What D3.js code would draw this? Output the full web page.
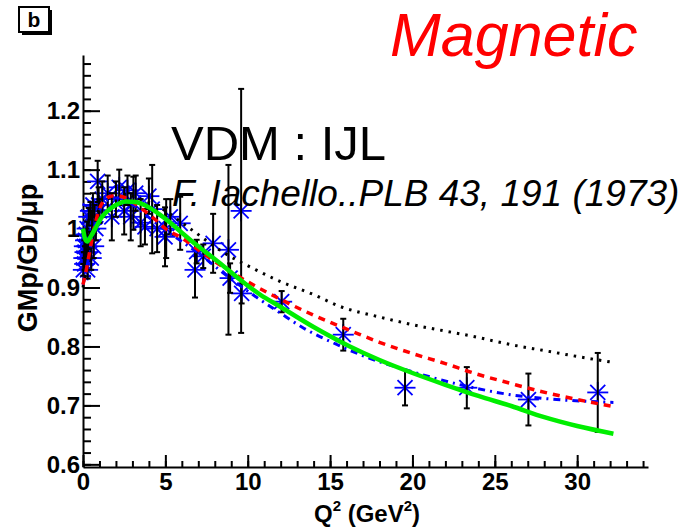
<!DOCTYPE html>
<html>
<head>
<meta charset="utf-8">
<script src="https://cdn.jsdelivr.net/npm/d3@7"></script>
<style>
  html, body { margin: 0; padding: 0; background: #fff; }
  svg { display: block; }
  text { font-family: "Liberation Sans", Arial, Helvetica, sans-serif; }
</style>
</head>
<body>
<svg id="chart" width="697" height="529"></svg>
<script>
// ---------- data ----------
const dataQ2  = [0.02,0.05,0.08,0.10,0.12,0.15,0.18,0.20,0.22,0.25,0.28,0.30,0.35,0.39,0.45,0.50,0.55,0.60,0.65,0.70,0.78,0.89,0.95,1.00,1.17,1.50,1.75,2.00,2.20,2.50,2.70,2.90,3.06,3.20,3.50,3.76,4.00,4.20,4.50,4.98,5.05,5.30,5.90,6.80,6.90,7.30,7.90,8.83,8.93,9.60,9.63,12.06,15.80,19.55,23.30,27.04,31.25];
const dataGM  = [0.930,0.950,0.970,0.940,0.960,0.980,0.950,0.990,0.970,1.000,0.930,0.960,1.020,0.980,1.030,0.950,1.010,1.040,0.970,1.020,1.000,1.080,1.040,1.030,1.050,1.060,1.020,1.050,1.070,1.030,1.065,1.020,1.043,1.060,1.010,1.003,1.055,1.033,1.000,0.986,1.000,1.020,1.009,0.930,0.961,0.953,0.975,0.964,0.916,1.030,0.890,0.876,0.820,0.730,0.730,0.710,0.722];
const dataErr = [0.010,0.010,0.010,0.010,0.010,0.010,0.010,0.010,0.012,0.012,0.015,0.012,0.015,0.015,0.015,0.020,0.020,0.020,0.020,0.020,0.020,0.035,0.030,0.020,0.030,0.030,0.040,0.030,0.030,0.040,0.025,0.040,0.045,0.030,0.040,0.030,0.030,0.075,0.040,0.050,0.050,0.030,0.045,0.047,0.020,0.020,0.050,0.144,0.025,0.207,0.017,0.018,0.027,0.030,0.035,0.044,0.067];

// VDM black dotted
const blackQ2  = [0,0.3,0.6,1.0,1.5,2.0,2.6,3.5,4.7,6.5,8.5,10.5,12,14,15.6,18,20,23.7,26,28,30,32.2];
const blackVal = [0.900,0.950,1.000,1.035,1.050,1.057,1.058,1.050,1.035,1.000,0.960,0.930,0.910,0.888,0.868,0.850,0.837,0.817,0.803,0.793,0.783,0.773];
// red dashed
const redQ2  = [0,0.2,0.4,0.6,0.8,1.1,1.6,2.0,2.6,3.5,4.4,5.0,6.0,7.3,8.5,10.3,12.06,14,16.4,18,20,22,23.7,26,27.75,30,32.2];
const redVal = [0.905,0.930,0.960,0.990,1.015,1.040,1.054,1.056,1.052,1.035,1.015,1.000,0.984,0.958,0.935,0.905,0.879,0.853,0.825,0.807,0.788,0.771,0.755,0.737,0.724,0.710,0.698];
// blue dash-dot
const blueQ2  = [0,0.2,0.4,0.6,0.8,1.1,1.6,2.0,2.6,3.5,4.4,5.0,6.0,7.3,8.5,10.3,11.96,13.4,15.2,17.3,20,23.7,26,28.75,30.5,32.2];
const blueVal = [0.905,0.930,0.960,0.990,1.013,1.037,1.050,1.052,1.048,1.030,1.010,0.997,0.978,0.952,0.925,0.888,0.857,0.831,0.806,0.781,0.757,0.730,0.718,0.710,0.707,0.705];
// green solid
const greenQ2  = [0,0.1,0.25,0.5,0.8,1.1,1.5,2.0,2.6,3.2,4.0,4.6,5.3,6.0,6.5,7.5,8.5,9.5,10.75,12,14,16.2,18,20,22,24,26,28,30,32.2];
const greenVal = [1.000,0.985,0.978,0.988,1.003,1.018,1.030,1.040,1.046,1.045,1.036,1.025,1.010,0.993,0.981,0.959,0.937,0.914,0.888,0.867,0.833,0.800,0.777,0.755,0.735,0.716,0.699,0.680,0.665,0.652];

const xMajor = [0,5,10,15,20,25,30];
const yMajor = [0.6,0.7,0.8,0.9,1.0,1.1,1.2];
const yLabels = ["0.6","0.7","0.8","0.9","1","1.1","1.2"];

// ---------- scales ----------
const svg = d3.select("#chart");
const x = d3.scaleLinear().domain([0, 34.3]).range([83, 648]);
const y = d3.scaleLinear().domain([0.5955, 1.2945]).range([467, 55]);

// ---------- axes ----------
const xMinor = d3.range(0, 35, 1);
const yMinor = d3.range(0.6, 1.295, 0.02);

svg.append("g").attr("transform", `translate(0,${y.range()[0]})`)
  .call(d3.axisBottom(x).tickValues(xMinor).tickSize(-6).tickSizeOuter(0).tickFormat(""))
  .call(g => g.selectAll("line,path").attr("stroke", "#000").attr("stroke-width", 2));
svg.append("g").attr("transform", `translate(0,${y.range()[0]})`)
  .call(d3.axisBottom(x).tickValues(xMajor).tickSize(-12).tickSizeOuter(0).tickPadding(6).tickFormat(d3.format("d")))
  .call(g => g.select(".domain").remove())
  .call(g => g.selectAll("line").attr("stroke", "#000").attr("stroke-width", 2))
  .call(g => g.selectAll("text").attr("fill", "#000").attr("font-size", 24).attr("font-weight", "bold")
              .attr("font-family", "Liberation Sans, Arial, sans-serif"));

svg.append("g").attr("transform", `translate(${x.range()[0]},0)`)
  .call(d3.axisLeft(y).tickValues(yMinor).tickSize(-8).tickSizeOuter(0).tickFormat(""))
  .call(g => g.selectAll("line,path").attr("stroke", "#000").attr("stroke-width", 2));
svg.append("g").attr("transform", `translate(${x.range()[0]},0)`)
  .call(d3.axisLeft(y).tickValues(yMajor).tickSize(-17).tickSizeOuter(0).tickPadding(3)
        .tickFormat((d, i) => yLabels[i]))
  .call(g => g.select(".domain").remove())
  .call(g => g.selectAll("line").attr("stroke", "#000").attr("stroke-width", 2))
  .call(g => g.selectAll("text").attr("fill", "#000").attr("font-size", 24).attr("font-weight", "bold")
              .attr("font-family", "Liberation Sans, Arial, sans-serif"));

// axis titles
const xt = svg.append("text").attr("x", 367).attr("y", 522).attr("text-anchor", "middle")
  .attr("font-size", 24).attr("font-weight", "bold");
xt.append("tspan").text("Q");
xt.append("tspan").attr("dy", -11).attr("font-size", 15).text("2");
xt.append("tspan").attr("dy", 11).text(" (GeV");
xt.append("tspan").attr("dy", -11).attr("font-size", 15).text("2");
xt.append("tspan").attr("dy", 11).text(")");

svg.append("text").attr("transform", "translate(37,258) rotate(-90)").attr("text-anchor", "middle")
  .attr("font-size", 27).attr("font-weight", "bold").text("GMp/GD/\u03bcp");

// ---------- data points ----------
const pts = dataQ2.map((q, i) => ({q, v: dataGM[i], e: dataErr[i]}));
const r = 10.5, rd = 7.5;
const mk = svg.append("g").attr("stroke", "#0000ff").attr("stroke-width", 1.8);
pts.forEach(p => {
  const cx = x(p.q), cy = y(p.v);
  const g = mk.append("g").attr("transform", `translate(${cx},${cy})`);
  g.append("line").attr("x1", -r).attr("x2", r).attr("y1", 0).attr("y2", 0);
  g.append("line").attr("x1", 0).attr("x2", 0).attr("y1", -r).attr("y2", r);
  g.append("line").attr("x1", -rd).attr("x2", rd).attr("y1", -rd).attr("y2", rd);
  g.append("line").attr("x1", -rd).attr("x2", rd).attr("y1", rd).attr("y2", -rd);
});
const eb = svg.append("g").attr("stroke", "#000").attr("stroke-width", 2);
pts.forEach(p => {
  const cx = x(p.q), y1 = y(p.v + p.e), y2 = y(p.v - p.e);
  eb.append("line").attr("x1", cx).attr("x2", cx).attr("y1", y1).attr("y2", y2);
  eb.append("line").attr("x1", cx - 3).attr("x2", cx + 3).attr("y1", y1).attr("y2", y1);
  eb.append("line").attr("x1", cx - 3).attr("x2", cx + 3).attr("y1", y2).attr("y2", y2);
});

// ---------- curves ----------
const line = d3.line().x(d => x(d[0])).y(d => y(d[1])).curve(d3.curveMonotoneX);
function curve(qs, vs, color, width, dash) {
  svg.append("path").datum(qs.map((q, i) => [q, vs[i]]))
    .attr("d", line).attr("fill", "none").attr("stroke", color)
    .attr("stroke-width", width).attr("stroke-dasharray", dash);
}
curve(blackQ2, blackVal, "#000000", 3, "2.5,6");
curve(blueQ2, blueVal, "#0000ff", 3, "7,5,2,5");
curve(redQ2, redVal, "#ff0000", 3.5, "7,6");
curve(greenQ2, greenVal, "#00ee00", 4.5, null);

// ---------- texts ----------
svg.append("text").attr("x", 390).attr("y", 56).attr("fill", "#ff0000")
  .attr("font-size", 61).attr("font-style", "italic").text("Magnetic");
svg.append("text").attr("x", 171).attr("y", 160).attr("fill", "#000")
  .attr("font-size", 49).text("VDM : IJL");
svg.append("text").attr("x", 172).attr("y", 206).attr("fill", "#000")
  .attr("font-size", 37).attr("font-style", "italic").text("F. Iachello..PLB 43, 191 (1973)");

// panel label
svg.append("rect").attr("x", 22).attr("y", 10).attr("width", 30).attr("height", 25).attr("fill", "#000");
svg.append("rect").attr("x", 19).attr("y", 7).attr("width", 30).attr("height", 25)
  .attr("fill", "#fff").attr("stroke", "#000").attr("stroke-width", 2);
svg.append("text").attr("x", 34).attr("y", 27).attr("text-anchor", "middle")
  .attr("font-size", 21).attr("font-weight", "bold").text("b");
</script>
</body>
</html>
